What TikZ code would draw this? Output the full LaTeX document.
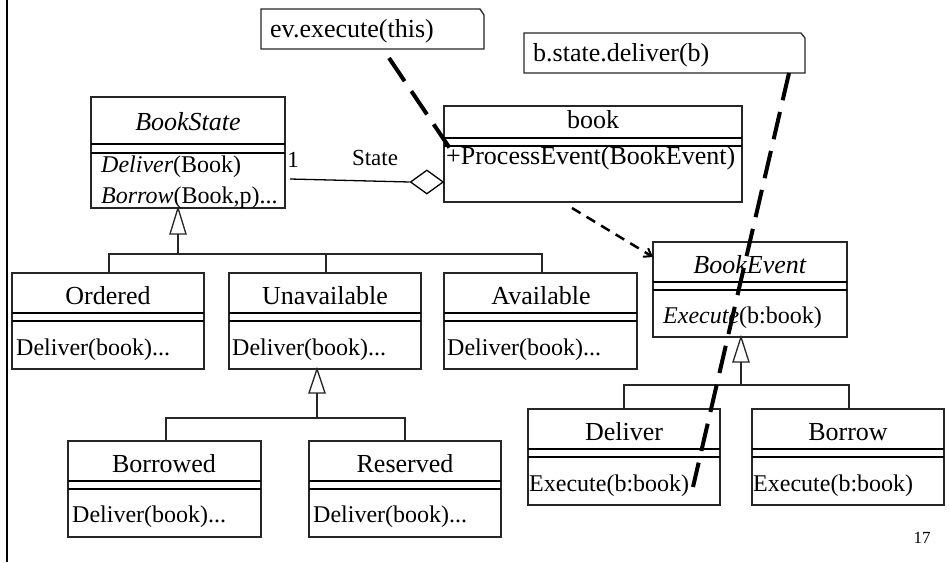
\documentclass[tikz,border=0pt]{standalone}
\usepackage{fontspec}
\setmainfont{Liberation Serif}
\usetikzlibrary{arrows.meta,shapes.geometric}

% Class box: #1 name, #2 left, #3 top, #4 right, #5 bottom, #6 first rule y, #7 second rule y
\newcommand\umlclass[7]{%
  \node[clsbox, minimum width={(#4-#2)*1pt}, minimum height={(#5-#3)*1pt}] (#1) at (#2,#3) {};
  \draw[sepline] (#2,#6) -- (#4,#6);
  \draw[sepline] (#2,#7) -- (#4,#7);
}
% Generalization arrow head: tip x, tip y, base y, half width
\newcommand\gentri[4]{%
  \draw[genline, fill=white] (#1,#2) -- ({#1-#4},#3) -- ({#1+#4},#3) -- cycle;
}

\tikzset{
  clsbox/.style={draw=black!85, line width=1.3pt, inner sep=0pt, outer sep=0pt,
                 anchor=north west, fill=white},
  sepline/.style={line width=2.2pt, black},
  genline/.style={line width=1.3pt, black!85},
  clsname/.style={inner sep=0pt, font=\fontsize{26}{30}\selectfont},
  oper/.style={inner sep=0pt, anchor=west, font=\fontsize{24}{28}\selectfont},
  notetext/.style={inner sep=0pt, anchor=west, font=\fontsize{26}{30}\selectfont},
  noteframe/.style={draw=black!85, line width=1.3pt, fill=white},
  notelink/.style={line width=4pt, dash pattern=on 28pt off 12pt},
  deplink/.style={line width=2.5pt, dash pattern=on 10pt off 7pt,
                  -{Straight Barb[length=7pt,width=10pt,line width=2pt]}},
  smalllabel/.style={inner sep=0pt, font=\fontsize{23}{27}\selectfont}
}

\begin{document}
\begin{tikzpicture}[x=1pt, y=-1pt]
\useasboundingbox (0,0) rectangle (950,562);

% left margin rule
\draw[line width=2.5pt] (7,0) -- (7,562);

% ---------- notes ----------
\draw[noteframe] (261,9) -- (480,9) -- (484,15) -- (484,49) -- (261,49) -- cycle;
\node[notetext] (note1) at (270,31) {ev.execute(this)};
\draw[noteframe] (524,33) -- (801,33) -- (805,38) -- (805,73) -- (524,73) -- cycle;
\node[notetext] (note2) at (533,55) {b.state.deliver(b)};

% ---------- classes ----------
\umlclass{bookstate}{91}{97}{285}{208}{144}{153}
\node[clsname] (bookstate-n) at (188,122) {\textit{BookState}};
\node[oper] (bookstate-o1) at (101,167) {\textit{Deliver}(Book)};
\node[oper] (bookstate-o2) at (101,198) {\textit{Borrow}(Book,p)...};

\umlclass{book}{444}{106}{742}{202}{138}{146}
\node[clsname] (book-n) at (593,120) {book};
\node[clsname, anchor=west] (book-o) at (446,158) {+ProcessEvent(BookEvent)};

\umlclass{bookevent}{653}{242}{847}{337}{282}{290}
\node[clsname] (bookevent-n) at (750,265) {\textit{BookEvent}};
\node[oper] (bookevent-o) at (663,318) {\textit{Execute}(b:book)};

\umlclass{ordered}{12}{273}{204}{369}{313}{321}
\node[clsname] (ordered-n) at (108,296) {Ordered};
\node[oper] (ordered-o) at (16,350) {Deliver(book)...};

\umlclass{unavail}{229}{273}{421}{369}{313}{321}
\node[clsname] (unavail-n) at (325,296) {Unavailable};
\node[oper] (unavail-o) at (232,350) {Deliver(book)...};

\umlclass{avail}{444}{273}{637}{369}{313}{321}
\node[clsname] (avail-n) at (541,296) {Available};
\node[oper] (avail-o) at (447,350) {Deliver(book)...};

\umlclass{borrowed}{68}{441}{261}{537}{481}{489}
\node[clsname] (borrowed-n) at (164,464) {Borrowed};
\node[oper] (borrowed-o) at (72,517) {Deliver(book)...};

\umlclass{reserved}{309}{441}{501}{537}{481}{489}
\node[clsname] (reserved-n) at (405,464) {Reserved};
\node[oper] (reserved-o) at (313,517) {Deliver(book)...};

\umlclass{deliver}{528}{409}{720}{505}{449}{457}
\node[clsname] (deliver-n) at (624,432) {Deliver};
\node[oper] (deliver-o) at (529,486) {Execute(b:book)};

\umlclass{borrow}{752}{409}{944}{505}{449}{457}
\node[clsname] (borrow-n) at (848,432) {Borrow};
\node[oper] (borrow-o) at (753,486) {Execute(b:book)};

% ---------- generalizations: BookState ----------
\gentri{178}{208}{234}{8}
\coordinate (bs-j) at (178,254);
\draw[genline] (178,234) -- (bs-j);
\draw[genline] (ordered.north -| 109,0) |- (bs-j);
\draw[genline] (avail.north -| 542,0) |- (bs-j);
\draw[genline] (unavail.north -| 326,0) -- (326,254);

% ---------- generalizations: Unavailable ----------
\gentri{317}{369}{393}{8}
\coordinate (ua-j) at (317,418);
\draw[genline] (317,393) -- (ua-j);
\draw[genline] (borrowed.north -| 166,0) |- (ua-j);
\draw[genline] (reserved.north -| 405,0) |- (ua-j);

% ---------- generalizations: BookEvent ----------
\gentri{741}{337}{362}{8}
\coordinate (be-j) at (741,385);
\draw[genline] (741,362) -- (be-j);
\draw[genline] (deliver.north -| 624,0) |- (be-j);
\draw[genline] (borrow.north -| 849,0) |- (be-j);

% ---------- aggregation BookState -- book ----------
\node[diamond, draw=black, line width=1.3pt, fill=white, inner sep=0pt, aspect=1.4,
      minimum width=33pt, minimum height=24pt, anchor=east] (agg) at (book.west |- 0,182) {};
\coordinate (assoc-s) at (290,179);
\draw[line width=1.3pt] (assoc-s) -- (agg.west);
\node[smalllabel] (mult) at (293,160) {1};
\node[smalllabel] (role) at (375,158) {State};

% ---------- dependency book -> BookEvent ----------
\coordinate (dep-s) at (572,208);
\coordinate (dep-e) at (653,257);
\draw[deplink] (dep-s) -- (dep-e);

% ---------- note anchors ----------
\coordinate (n1-s) at (389,58);
\coordinate (n1-e) at (453,153);
\draw[notelink] (n1-s) -- (n1-e);
\coordinate (n2-s) at (789,73);
\coordinate (n2-e) at (693,487);
\draw[notelink] (n2-s) -- (n2-e);

% page number
\node[inner sep=0pt, font=\fontsize{17}{20}\selectfont] (pageno) at (922,538) {17};
\end{tikzpicture}
\end{document}
